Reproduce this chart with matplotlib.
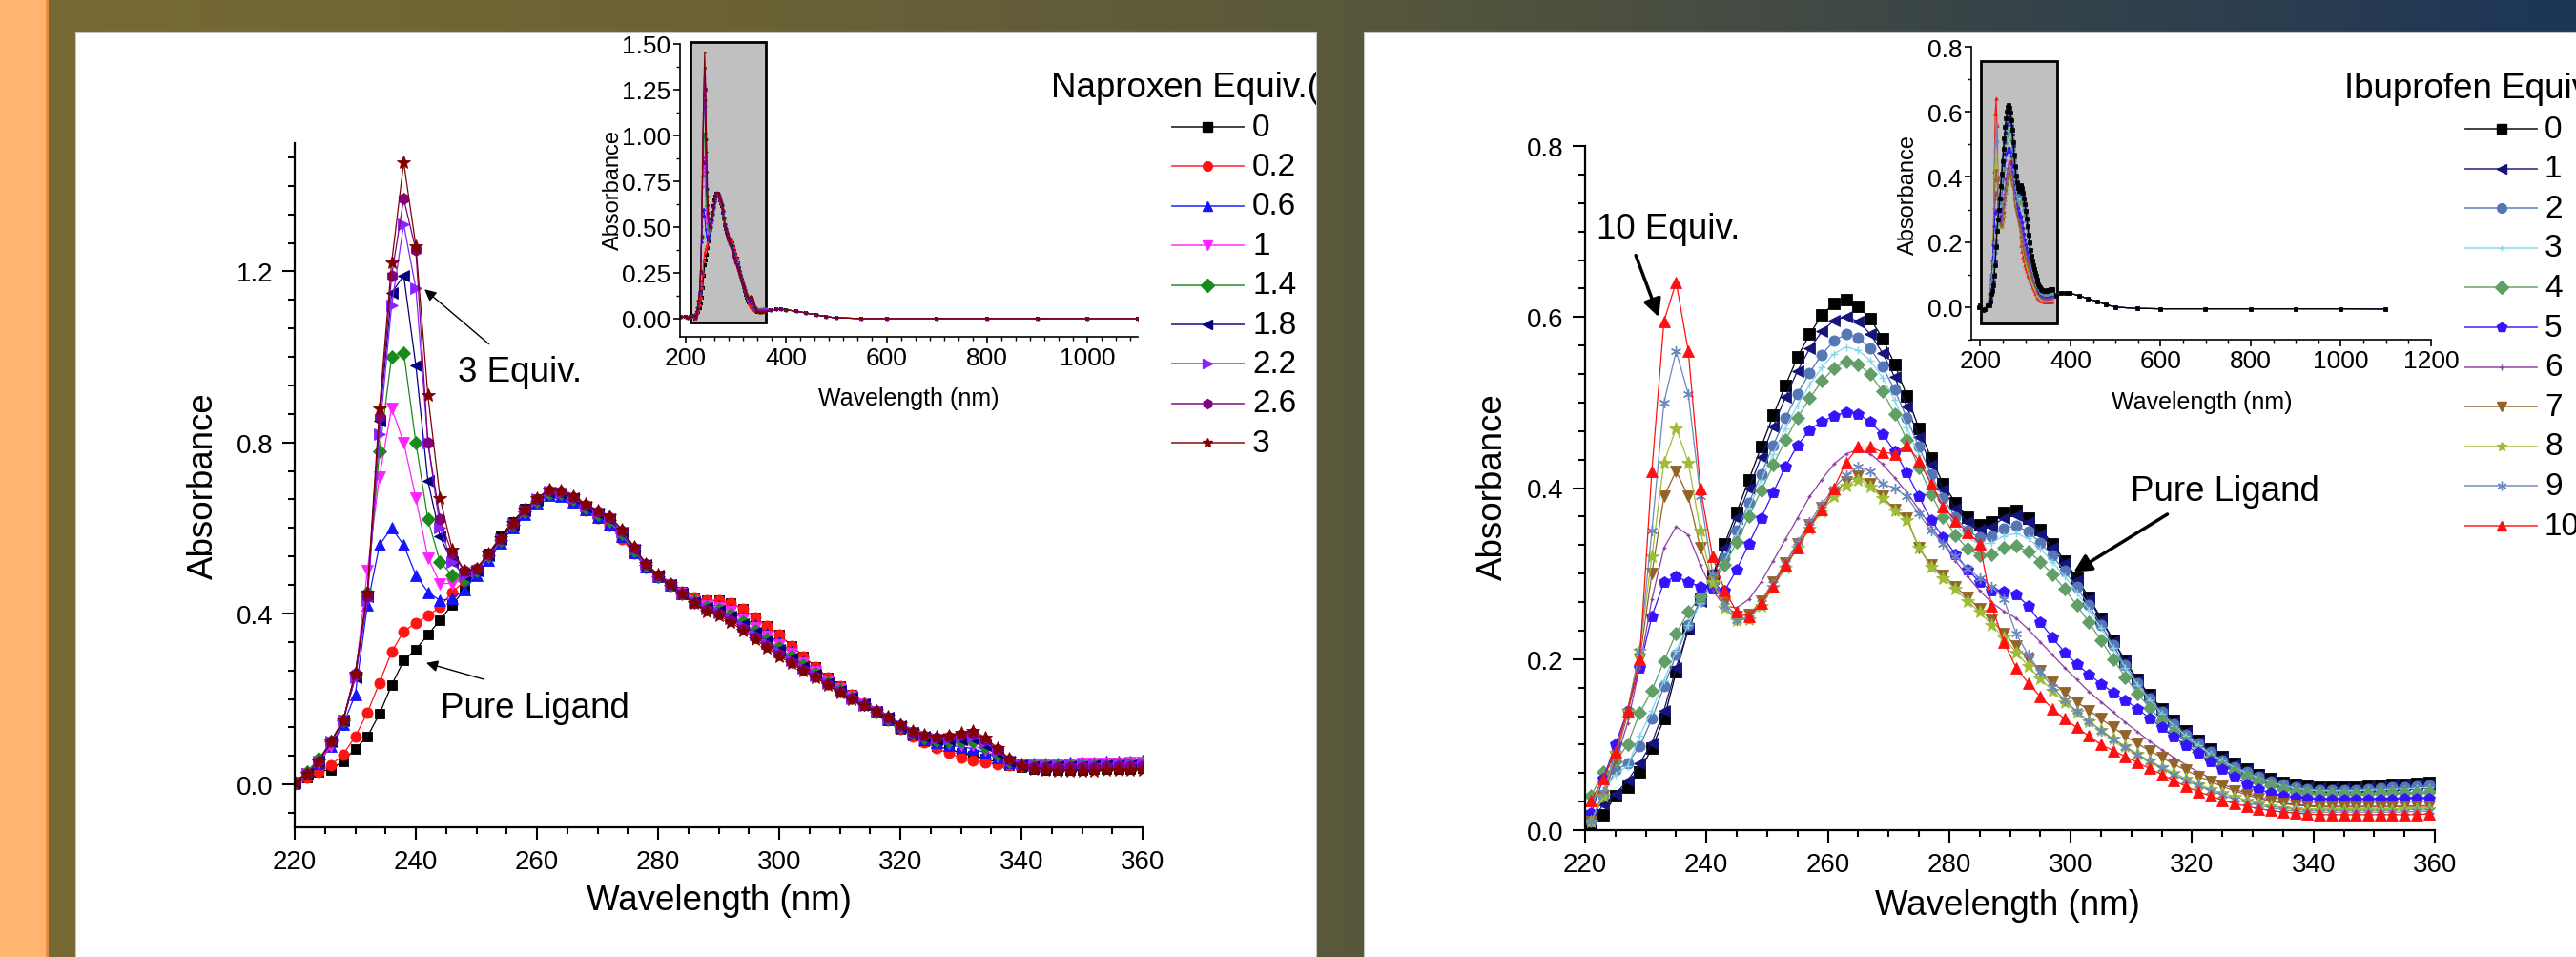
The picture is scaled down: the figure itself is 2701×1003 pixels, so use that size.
import numpy as np
import matplotlib.pyplot as plt
from matplotlib.patches import Rectangle
from matplotlib.ticker import MultipleLocator, AutoMinorLocator
from matplotlib.colors import LinearSegmentedColormap

plt.rcParams['font.family'] = ['Liberation Sans', 'DejaVu Sans']

# ---------------- data: Naproxen titration (left) ----------------
wl_L = np.arange(220, 361, 2)
labels_L = ['0', '0.2', '0.6', '1', '1.4', '1.8', '2.2', '2.6', '3']
nap_0 = [0.0, 0.015, 0.03, 0.035, 0.055, 0.083, 0.112, 0.165, 0.232, 0.29, 0.316, 0.35, 0.385, 0.42, 0.455,
         0.5, 0.54, 0.58, 0.615, 0.645, 0.668, 0.684, 0.68, 0.665, 0.645, 0.628, 0.612, 0.58, 0.545, 0.512, 0.488, 0.47, 0.452, 0.437, 0.43,
         0.43, 0.425, 0.41, 0.39, 0.37, 0.35, 0.325, 0.3, 0.275, 0.25, 0.23, 0.21, 0.19, 0.17, 0.15, 0.13, 0.115, 0.1, 0.09, 0.082, 0.075, 0.068, 0.06, 0.052, 0.046,
         0.04, 0.037, 0.035, 0.035, 0.035, 0.035, 0.036, 0.036, 0.037, 0.037, 0.038]
nap_02 = [0.0, 0.015, 0.03, 0.045, 0.07, 0.112, 0.168, 0.238, 0.31, 0.358, 0.378, 0.395, 0.415, 0.45, 0.475,
          0.505, 0.535, 0.57, 0.605, 0.635, 0.66, 0.678, 0.676, 0.66, 0.64, 0.622, 0.605, 0.575, 0.54, 0.508, 0.485, 0.468, 0.452, 0.437, 0.43,
          0.43, 0.425, 0.41, 0.39, 0.37, 0.35, 0.325, 0.3, 0.275, 0.25, 0.23, 0.21, 0.19, 0.17, 0.15, 0.13, 0.113, 0.098, 0.085, 0.073, 0.063, 0.057, 0.052, 0.048, 0.044,
          0.042, 0.04, 0.038, 0.038, 0.038, 0.039, 0.039, 0.04, 0.04, 0.041, 0.041]
nap_06 = [0.005, 0.025, 0.05, 0.09, 0.14, 0.21, 0.42, 0.56, 0.6, 0.56, 0.49, 0.45, 0.43, 0.435, 0.455,
          0.49, 0.525, 0.565, 0.6, 0.632, 0.658, 0.676, 0.675, 0.662, 0.643, 0.626, 0.61, 0.58, 0.543, 0.51, 0.486, 0.466, 0.447, 0.43, 0.42,
          0.418, 0.409, 0.392, 0.372, 0.352, 0.332, 0.31, 0.288, 0.266, 0.244, 0.225, 0.206, 0.188, 0.171, 0.153, 0.134, 0.119, 0.106, 0.098, 0.092, 0.088, 0.084, 0.074, 0.062, 0.052,
          0.05, 0.05, 0.05, 0.05, 0.051, 0.052, 0.052, 0.053, 0.054, 0.055, 0.056]
nap_1 = [0.005, 0.025, 0.05, 0.09, 0.15, 0.25, 0.5, 0.72, 0.88, 0.8, 0.67, 0.53, 0.47, 0.47, 0.48,
         0.5, 0.532, 0.57, 0.605, 0.636, 0.662, 0.68, 0.678, 0.665, 0.646, 0.63, 0.615, 0.584, 0.546, 0.512, 0.487, 0.467, 0.447, 0.429, 0.418,
         0.414, 0.405, 0.387, 0.367, 0.347, 0.327, 0.306, 0.284, 0.264, 0.242, 0.223, 0.205, 0.188, 0.171, 0.154, 0.135, 0.12, 0.108, 0.1, 0.096, 0.093, 0.091, 0.08, 0.066, 0.052,
         0.048, 0.047, 0.047, 0.048, 0.048, 0.049, 0.049, 0.05, 0.05, 0.051, 0.052]
nap_14 = [0.005, 0.03, 0.06, 0.1, 0.15, 0.26, 0.45, 0.78, 1.0, 1.01, 0.8, 0.62, 0.52, 0.49, 0.48,
          0.5, 0.535, 0.572, 0.607, 0.638, 0.664, 0.682, 0.68, 0.667, 0.648, 0.632, 0.618, 0.587, 0.548, 0.513, 0.488, 0.467, 0.446, 0.428, 0.415,
          0.409, 0.398, 0.38, 0.36, 0.34, 0.32, 0.3, 0.279, 0.26, 0.239, 0.221, 0.204, 0.187, 0.171, 0.155, 0.136, 0.121, 0.11, 0.103, 0.101, 0.101, 0.1, 0.088, 0.071, 0.054,
          0.046, 0.044, 0.044, 0.044, 0.045, 0.045, 0.046, 0.046, 0.047, 0.047, 0.048]
nap_18 = [0.005, 0.025, 0.055, 0.1, 0.15, 0.25, 0.44, 0.85, 1.15, 1.19, 0.98, 0.71, 0.58, 0.52, 0.49,
          0.5, 0.536, 0.573, 0.608, 0.64, 0.665, 0.684, 0.682, 0.669, 0.65, 0.634, 0.62, 0.59, 0.55, 0.514, 0.489, 0.467, 0.446, 0.427, 0.413,
          0.406, 0.394, 0.375, 0.355, 0.335, 0.315, 0.296, 0.276, 0.258, 0.237, 0.22, 0.203, 0.187, 0.171, 0.156, 0.137, 0.122, 0.112, 0.105, 0.105, 0.106, 0.107, 0.093, 0.074, 0.055,
          0.045, 0.043, 0.042, 0.042, 0.043, 0.043, 0.044, 0.044, 0.045, 0.045, 0.046]
nap_22 = [0.005, 0.025, 0.055, 0.1, 0.15, 0.25, 0.43, 0.82, 1.12, 1.31, 1.16, 0.8, 0.6, 0.52, 0.49,
          0.5, 0.537, 0.574, 0.609, 0.641, 0.667, 0.686, 0.684, 0.671, 0.652, 0.636, 0.623, 0.592, 0.552, 0.515, 0.49, 0.468, 0.446, 0.426, 0.411,
          0.402, 0.389, 0.37, 0.35, 0.33, 0.31, 0.291, 0.272, 0.255, 0.236, 0.218, 0.202, 0.186, 0.172, 0.156, 0.138, 0.123, 0.114, 0.108, 0.108, 0.112, 0.113, 0.099, 0.078, 0.057,
          0.047, 0.046, 0.046, 0.046, 0.047, 0.047, 0.048, 0.048, 0.049, 0.05, 0.05]
nap_26 = [0.005, 0.025, 0.055, 0.1, 0.15, 0.26, 0.44, 0.86, 1.19, 1.37, 1.25, 0.8, 0.62, 0.54, 0.5,
          0.505, 0.538, 0.575, 0.61, 0.642, 0.668, 0.688, 0.686, 0.673, 0.654, 0.638, 0.626, 0.595, 0.554, 0.516, 0.49, 0.468, 0.446, 0.425, 0.409,
          0.399, 0.385, 0.365, 0.345, 0.325, 0.305, 0.287, 0.269, 0.253, 0.234, 0.217, 0.201, 0.186, 0.172, 0.157, 0.139, 0.124, 0.115, 0.11, 0.112, 0.117, 0.12, 0.105, 0.082, 0.059,
          0.044, 0.041, 0.04, 0.04, 0.04, 0.041, 0.041, 0.042, 0.042, 0.043, 0.043]
nap_3 = [0.005, 0.025, 0.055, 0.1, 0.15, 0.26, 0.45, 0.88, 1.22, 1.455, 1.26, 0.91, 0.67, 0.55, 0.5,
         0.505, 0.54, 0.576, 0.611, 0.643, 0.67, 0.69, 0.688, 0.675, 0.656, 0.64, 0.628, 0.597, 0.556, 0.517, 0.491, 0.468, 0.446, 0.424, 0.405,
         0.395, 0.38, 0.36, 0.34, 0.32, 0.3, 0.283, 0.265, 0.25, 0.232, 0.215, 0.2, 0.185, 0.172, 0.158, 0.14, 0.125, 0.117, 0.112, 0.115, 0.122, 0.126, 0.11, 0.085, 0.06,
         0.042, 0.037, 0.034, 0.032, 0.032, 0.032, 0.032, 0.033, 0.033, 0.033, 0.034]
series_L = [nap_0, nap_02, nap_06, nap_1, nap_14, nap_18, nap_22, nap_26, nap_3]

# ---------------- data: Ibuprofen titration (right) ----------------
wl_R = np.arange(221, 360, 2)
labels_R = ['0', '1', '2', '3', '4', '5', '6', '7', '8', '9', '10']
ibu_0 = [0.005, 0.018, 0.04, 0.05, 0.068, 0.096, 0.13, 0.185, 0.235, 0.27,
         0.298, 0.335, 0.372, 0.41, 0.448, 0.485, 0.52, 0.553, 0.58, 0.602,
         0.616, 0.62, 0.613, 0.598, 0.575, 0.545, 0.508, 0.47, 0.435, 0.405,
         0.383, 0.366, 0.357, 0.36, 0.372, 0.374, 0.365, 0.352, 0.335, 0.315,
         0.295, 0.272, 0.248, 0.222, 0.198, 0.176, 0.158, 0.142, 0.128, 0.116,
         0.105, 0.095, 0.086, 0.078, 0.071, 0.065, 0.06, 0.056, 0.053, 0.051,
         0.05, 0.05, 0.05, 0.05, 0.051, 0.052, 0.053, 0.054, 0.055, 0.056]
ibu_1 = [0.01, 0.03, 0.042, 0.058, 0.078, 0.102, 0.14, 0.19, 0.235, 0.268,
         0.295, 0.33, 0.365, 0.4, 0.436, 0.472, 0.506, 0.537, 0.563, 0.583,
         0.596, 0.6, 0.595, 0.58, 0.558, 0.53, 0.495, 0.46, 0.427, 0.398,
         0.376, 0.36, 0.352, 0.355, 0.365, 0.368, 0.36, 0.346, 0.33, 0.312,
         0.292, 0.27, 0.246, 0.221, 0.197, 0.175, 0.157, 0.141, 0.127, 0.115,
         0.104, 0.094, 0.085, 0.077, 0.07, 0.064, 0.059, 0.055, 0.052, 0.05,
         0.049, 0.049, 0.049, 0.049, 0.05, 0.051, 0.052, 0.053, 0.053, 0.054]
ibu_2 = [0.01, 0.04, 0.07, 0.078, 0.098, 0.13, 0.168, 0.205, 0.24, 0.268,
         0.29, 0.318, 0.35, 0.383, 0.416, 0.45, 0.482, 0.51, 0.535, 0.556,
         0.572, 0.58, 0.576, 0.563, 0.542, 0.515, 0.482, 0.448, 0.416, 0.388,
         0.366, 0.35, 0.342, 0.344, 0.353, 0.356, 0.349, 0.336, 0.321, 0.303,
         0.284, 0.263, 0.24, 0.216, 0.193, 0.172, 0.154, 0.138, 0.124, 0.112,
         0.101, 0.091, 0.082, 0.074, 0.068, 0.062, 0.057, 0.053, 0.05, 0.048,
         0.047, 0.047, 0.047, 0.047, 0.048, 0.049, 0.05, 0.05, 0.051, 0.052]
ibu_3 = [0.01, 0.045, 0.065, 0.075, 0.11, 0.14, 0.175, 0.21, 0.24, 0.265,
         0.288, 0.314, 0.345, 0.377, 0.409, 0.44, 0.47, 0.497, 0.521, 0.541,
         0.557, 0.565, 0.561, 0.549, 0.529, 0.503, 0.471, 0.438, 0.407, 0.38,
         0.358, 0.342, 0.334, 0.336, 0.344, 0.347, 0.341, 0.329, 0.314, 0.297,
         0.278, 0.258, 0.236, 0.213, 0.19, 0.17, 0.152, 0.136, 0.122, 0.11,
         0.099, 0.089, 0.081, 0.073, 0.067, 0.061, 0.056, 0.052, 0.049, 0.047,
         0.046, 0.046, 0.046, 0.046, 0.047, 0.047, 0.048, 0.048, 0.049, 0.05]
ibu_4 = [0.04, 0.068, 0.08, 0.1, 0.137, 0.163, 0.198, 0.23, 0.255, 0.273,
         0.29, 0.31, 0.337, 0.367, 0.397, 0.427, 0.456, 0.482, 0.505, 0.525,
         0.54, 0.548, 0.545, 0.533, 0.513, 0.487, 0.456, 0.424, 0.393, 0.366,
         0.345, 0.329, 0.321, 0.323, 0.33, 0.332, 0.326, 0.314, 0.299, 0.282,
         0.263, 0.243, 0.222, 0.2, 0.179, 0.16, 0.143, 0.128, 0.115, 0.103,
         0.092, 0.083, 0.075, 0.068, 0.062, 0.057, 0.052, 0.048, 0.045, 0.043,
         0.042, 0.042, 0.042, 0.042, 0.042, 0.043, 0.043, 0.044, 0.044, 0.045]
ibu_5 = [0.02, 0.06, 0.1, 0.14, 0.19, 0.25, 0.29, 0.297, 0.29, 0.285,
         0.282, 0.28, 0.305, 0.335, 0.365, 0.395, 0.425, 0.45, 0.468, 0.478,
         0.484, 0.489, 0.487, 0.477, 0.463, 0.443, 0.418, 0.39, 0.363, 0.342,
         0.323, 0.305, 0.29, 0.28, 0.279, 0.276, 0.262, 0.243, 0.225, 0.208,
         0.194, 0.182, 0.171, 0.161, 0.152, 0.142, 0.131, 0.12, 0.109, 0.099,
         0.09, 0.08, 0.071, 0.062, 0.054, 0.048, 0.043, 0.04, 0.038, 0.037,
         0.036, 0.036, 0.036, 0.036, 0.036, 0.036, 0.036, 0.037, 0.037, 0.037]
ibu_6 = [0.01, 0.04, 0.08, 0.125, 0.19, 0.27, 0.33, 0.355, 0.345, 0.31,
         0.28, 0.262, 0.26, 0.27, 0.29, 0.315, 0.34, 0.365, 0.39, 0.41,
         0.428, 0.44, 0.445, 0.44, 0.428, 0.412, 0.395, 0.375, 0.355, 0.335,
         0.315, 0.297, 0.28, 0.266, 0.256, 0.248, 0.235, 0.22, 0.205, 0.19,
         0.176, 0.162, 0.15, 0.138, 0.126, 0.115, 0.104, 0.094, 0.085, 0.076,
         0.068, 0.061, 0.054, 0.048, 0.043, 0.039, 0.035, 0.032, 0.03, 0.029,
         0.028, 0.028, 0.028, 0.028, 0.028, 0.028, 0.028, 0.028, 0.028, 0.029]
ibu_7 = [0.01, 0.04, 0.085, 0.135, 0.2, 0.3, 0.39, 0.42, 0.39, 0.33,
         0.29, 0.265, 0.25, 0.252, 0.268, 0.29, 0.312, 0.335, 0.357, 0.377,
         0.394, 0.407, 0.414, 0.405, 0.39, 0.375, 0.365, 0.33, 0.31, 0.298,
         0.285, 0.272, 0.259, 0.245, 0.23, 0.215, 0.2, 0.186, 0.173, 0.161,
         0.15, 0.14, 0.13, 0.12, 0.11, 0.101, 0.093, 0.085, 0.077, 0.07,
         0.063, 0.057, 0.051, 0.046, 0.041, 0.037, 0.034, 0.031, 0.029, 0.028,
         0.027, 0.027, 0.027, 0.027, 0.027, 0.027, 0.027, 0.028, 0.028, 0.028]
ibu_8 = [0.01, 0.04, 0.09, 0.14, 0.21, 0.32, 0.43, 0.47, 0.43, 0.35,
         0.29, 0.26, 0.245, 0.247, 0.262, 0.284, 0.307, 0.33, 0.353, 0.373,
         0.39, 0.403, 0.41, 0.402, 0.388, 0.374, 0.363, 0.33, 0.308, 0.295,
         0.282, 0.268, 0.255, 0.24, 0.225, 0.208, 0.192, 0.177, 0.163, 0.15,
         0.138, 0.127, 0.117, 0.107, 0.098, 0.089, 0.081, 0.074, 0.067, 0.06,
         0.054, 0.048, 0.043, 0.039, 0.035, 0.031, 0.028, 0.026, 0.024, 0.023,
         0.023, 0.023, 0.023, 0.023, 0.023, 0.023, 0.023, 0.024, 0.024, 0.024]
ibu_9 = [0.01, 0.045, 0.09, 0.14, 0.21, 0.35, 0.5, 0.56, 0.51, 0.39,
         0.3, 0.262, 0.245, 0.248, 0.265, 0.288, 0.312, 0.337, 0.36, 0.381,
         0.4, 0.415, 0.425, 0.42, 0.405, 0.4, 0.39, 0.37, 0.35, 0.335,
         0.32, 0.306, 0.295, 0.285, 0.27, 0.23, 0.205, 0.185, 0.167, 0.152,
         0.139, 0.127, 0.116, 0.106, 0.097, 0.088, 0.08, 0.072, 0.065, 0.058,
         0.052, 0.046, 0.041, 0.036, 0.032, 0.029, 0.026, 0.024, 0.022, 0.021,
         0.021, 0.021, 0.021, 0.021, 0.021, 0.021, 0.021, 0.021, 0.022, 0.022]
ibu_10 = [0.035, 0.06, 0.092, 0.14, 0.2, 0.42, 0.595, 0.641, 0.56, 0.4,
          0.32, 0.28, 0.255, 0.25, 0.265, 0.285, 0.31, 0.33, 0.355, 0.375,
          0.4, 0.43, 0.448, 0.448, 0.442, 0.44, 0.45, 0.432, 0.405, 0.378,
          0.362, 0.348, 0.335, 0.262, 0.22, 0.19, 0.172, 0.156, 0.142, 0.13,
          0.12, 0.11, 0.1, 0.093, 0.086, 0.079, 0.072, 0.065, 0.058, 0.051,
          0.045, 0.04, 0.035, 0.031, 0.028, 0.025, 0.023, 0.021, 0.02, 0.019,
          0.018, 0.018, 0.018, 0.018, 0.018, 0.018, 0.018, 0.018, 0.018, 0.019]
series_R = [ibu_0, ibu_1, ibu_2, ibu_3, ibu_4, ibu_5, ibu_6, ibu_7, ibu_8, ibu_9, ibu_10]

# full-range spectra for the insets: short and long wavelength ends
inL_low_wl = [190, 200, 205, 210, 215]
inL_low = [0.01, 0.012, 0.005, 0.01, 0.015]
inL_tail_wl = [370, 380, 390, 400, 420, 440, 460, 480, 500, 550, 600, 700, 800, 900, 1000, 1100]
inL_tail = [0.045, 0.05, 0.05, 0.047, 0.04, 0.03, 0.02, 0.01, 0.004, 0.0, 0.0, 0.0, 0.0, 0.0, 0.0, 0.0]
inR_low_wl = [196, 200, 205, 210, 215]
inR_low = [0.0, 0.005, -0.01, -0.005, 0.005]
inR_tail_wl = [369, 379, 389, 399, 419, 439, 459, 479, 499, 549, 599, 699, 799, 899, 999, 1099]
inR_tail = [0.035, 0.045, 0.045, 0.043, 0.035, 0.026, 0.017, 0.008, 0.0, -0.004, -0.005, -0.005, -0.005, -0.005, -0.005, -0.006]

# styles
colors_L = ['#000000', '#ff1414', '#1414ff', '#ff22ff', '#1a8a1a', '#000080', '#8a22ff', '#800080', '#800000']
markers_L = ['s', 'o', '^', 'v', 'D', '<', '>', 'h', '*']
msize_L = [7.5, 8, 8, 8, 7, 8, 8, 8.5, 10]
colors_R = ['#000000', '#14147a', '#5577b5', '#86d6e6', '#619e68', '#3414ff', '#8b3fa0', '#93642a', '#9dbd35', '#6b87bd', '#ff1010']
markers_R = ['s', '<', 'o', '+', 'D', 'p', '+', 'v', '*', (6, 2, 0), '^']
msize_R = [8, 8, 8, 6, 7, 9, 2.5, 8, 10, 8, 8]

W, H = 2701, 1004
fig = plt.figure(figsize=(W / 100, H / 100), dpi=100)


def px_axes(x0, y0, x1, y1):
    return fig.add_axes([x0 / W, 1 - y1 / H, (x1 - x0) / W, (y1 - y0) / H])


# background
bg = px_axes(0, 0, W, H)
cmap = LinearSegmentedColormap.from_list('bg', [(0, '#786a33'), (0.3, '#6a6236'), (0.52, '#59583b'),
                                                (0.76, '#3a4547'), (1, '#1c3658')])
bg.imshow(np.linspace(0, 1, 600)[None, :], aspect='auto', cmap=cmap, extent=[0, W, H, 0])
bg.add_patch(Rectangle((0, 0), 49, H, color='#ffb470'))
bg.plot([49, 49], [0, H], color='#e88c3e', lw=2)
bg.set_xlim(0, W)
bg.set_ylim(H, 0)
bg.axis('off')

# white panels
panels = []
for x0, x1 in [(79, 1380), (1430, W)]:
    p = px_axes(x0, 35, x1, H)
    p.set_xlim(x0, x1)
    p.set_ylim(H, 35)
    p.set_facecolor('white')
    p.set_xticks([])
    p.set_yticks([])
    for s in p.spines.values():
        s.set_color('#c4c4c4')
    panels.append(p)
pl, pr = panels


def style_main(ax, ylim, ymaj):
    ax.set_facecolor('none')
    ax.set_xlim(220, 360)
    ax.set_ylim(*ylim)
    for s in ['top', 'right']:
        ax.spines[s].set_visible(False)
    for s in ['left', 'bottom']:
        ax.spines[s].set_linewidth(1.6)
    ax.xaxis.set_major_locator(MultipleLocator(20))
    ax.xaxis.set_minor_locator(MultipleLocator(5))
    ax.yaxis.set_major_locator(MultipleLocator(ymaj))
    ax.yaxis.set_minor_locator(MultipleLocator(ymaj / 6))
    ax.tick_params(which='major', direction='out', length=9.5, width=1.5, labelsize=20, pad=7)
    ax.tick_params(which='minor', direction='out', length=5, width=1.5)
    ax.set_xlabel('Wavelength (nm)', fontsize=26.5)
    ax.set_ylabel('Absorbance', fontsize=26.5)
    ax.xaxis.label.set_va('center')
    ax.yaxis.label.set_va('center')


def style_inset(ax, xlim, ylim, ymaj, xminor):
    ax.set_facecolor('none')
    ax.set_xlim(*xlim)
    ax.set_ylim(*ylim)
    for s in ['top', 'right']:
        ax.spines[s].set_visible(False)
    for s in ['left', 'bottom']:
        ax.spines[s].set_linewidth(1.2)
    ax.xaxis.set_major_locator(MultipleLocator(200))
    ax.xaxis.set_minor_locator(AutoMinorLocator(xminor))
    ax.yaxis.set_major_locator(MultipleLocator(ymaj))
    ax.yaxis.set_minor_locator(AutoMinorLocator(2))
    ax.tick_params(which='major', direction='out', length=5, width=1.2, labelsize=19, pad=2)
    ax.tick_params(which='minor', direction='out', length=3, width=1)
    ax.set_xlabel('Wavelength (nm)', fontsize=18)
    ax.set_ylabel('Absorbance', fontsize=17)
    ax.xaxis.label.set_va('center')
    ax.yaxis.label.set_va('center')


# ---------------- left main ----------------
axL = px_axes(309, 151, 1198, 868)
for vals, c, m, ms in zip(series_L, colors_L, markers_L, msize_L):
    axL.plot(wl_L, vals, color=c, lw=0.9, marker=m, ms=ms, mec=c, mew=0.6)
style_main(axL, (-0.1, 1.5), 0.4)
axL.xaxis.set_label_coords(0.5, -0.106)
axL.yaxis.set_label_coords(-0.107, 0.5)
axL.annotate('', xy=(241.1, 1.162), xytext=(252.4, 1.026),
             arrowprops=dict(arrowstyle='-|>', color='black', lw=1, mutation_scale=18))
axL.text(246.9, 0.966, '3 Equiv.', fontsize=26.5, va='center', ha='left')
axL.annotate('', xy=(241.3, 0.286), xytext=(251.7, 0.244),
             arrowprops=dict(arrowstyle='-|>', color='black', lw=1, mutation_scale=18))
axL.text(244.1, 0.179, 'Pure Ligand', fontsize=26.5, va='center', ha='left')

# ---------------- right main ----------------
axR = px_axes(1662, 154, 2553, 871)
for vals, c, m, ms in zip(series_R, colors_R, markers_R, msize_R):
    axR.plot(wl_R, vals, color=c, lw=0.9, marker=m, ms=ms, mec=c, mew=1.0 if m in ('+', (6, 2, 0)) else 0.6)
style_main(axR, (0, 0.8), 0.2)
axR.xaxis.set_label_coords(0.497, -0.109)
axR.yaxis.set_label_coords(-0.108, 0.503)
axR.annotate('', xy=(232.3, 0.597), xytext=(228.2, 0.675),
             arrowprops=dict(arrowstyle='-|>', color='black', lw=2.5, mutation_scale=28))
axR.text(221.9, 0.704, '10 Equiv.', fontsize=26.5, va='center', ha='left')
axR.annotate('', xy=(300.1, 0.30), xytext=(316.3, 0.371),
             arrowprops=dict(arrowstyle='-|>', color='black', lw=2.5, mutation_scale=28))
axR.text(309.9, 0.397, 'Pure Ligand', fontsize=26.5, va='center', ha='left')

# ---------------- insets ----------------
inL = px_axes(713, 47, 1193, 354)
inL.add_patch(Rectangle((210, -0.02), 150, 1.53, fc='#c0c0c0', ec='black', lw=2, zorder=0.5, clip_on=False))
for vals, c, m in zip(series_L, colors_L, markers_L):
    inL.plot(np.concatenate([inL_low_wl, wl_L, inL_tail_wl]), np.concatenate([inL_low, vals, inL_tail]),
             color=c, lw=0.8, marker=m, ms=2.5, mew=0)
style_inset(inL, (189, 1100), (-0.1, 1.5), 0.25, 7)
inL.xaxis.set_label_coords(0.5, -0.208)
inL.yaxis.set_label_coords(-0.146, 0.505)

inR = px_axes(2067, 50, 2549, 357)
inR.add_patch(Rectangle((202, -0.05), 168, 0.806, fc='#c0c0c0', ec='black', lw=2, zorder=0.5, clip_on=False))
# black (pure ligand) drawn last so it sits on top, as in the original inset
for vals, c, m in list(zip(series_R, colors_R, markers_R))[::-1]:
    inR.plot(np.concatenate([inR_low_wl, wl_R, inR_tail_wl]), np.concatenate([inR_low, vals, inR_tail]),
             color=c, lw=0.8, marker=m, ms=2.5, mew=0.5)
style_inset(inR, (180, 1200), (-0.1, 0.8), 0.2, 4)
inR.xaxis.set_label_coords(0.502, -0.212)
inR.yaxis.set_label_coords(-0.137, 0.498)

# ---------------- legends (drawn on the panels) ----------------
pl.text(1102, 92, 'Naproxen Equiv.(', fontsize=26.5, va='center', ha='left', clip_on=True)
for i, (lab, c, m) in enumerate(zip(labels_L, colors_L, markers_L)):
    y = 134 + i * 41.4
    pl.plot([1229, 1304], [y, y], color=c, lw=1.3, alpha=0.8)
    pl.plot([1266], [y], marker=m, color=c, ms=7, mec=c)
    pl.text(1313, y, lab, fontsize=24, va='center', ha='left', clip_on=True)

pr.text(2458, 93, 'Ibuprofen Equiv.', fontsize=26.5, va='center', ha='left', clip_on=True)
for i, (lab, c, m) in enumerate(zip(labels_R, colors_R, markers_R)):
    y = 136 + i * 41.6
    pr.plot([2585, 2660], [y, y], color=c, lw=1.3, alpha=0.8)
    pr.plot([2623], [y], marker=m, color=c, ms=7 if m not in ('+',) else 5, mec=c, mew=1)
    pr.text(2668, y, lab, fontsize=24, va='center', ha='left', clip_on=True)

fig.savefig('out.png', dpi=100)
